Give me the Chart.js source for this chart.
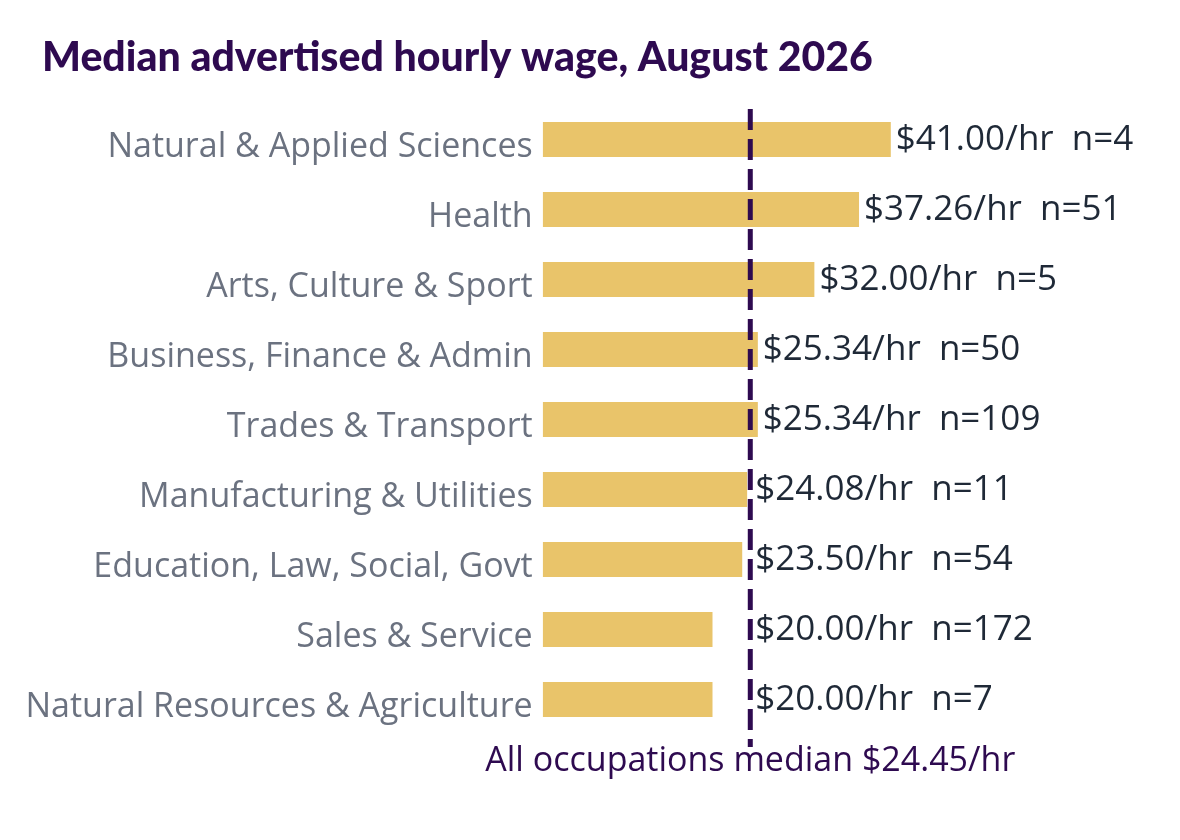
<!DOCTYPE html>
<html>
<head>
<meta charset="utf-8">
<script src="https://cdn.jsdelivr.net/npm/chart.js@4.4.1/dist/chart.umd.min.js"></script>
<style>
  html, body { margin: 0; padding: 0; background: #fff; }
  #wrap { width: 1180px; height: 840px; }
</style>
</head>
<body>
<div id="wrap"><canvas id="chart"></canvas></div>
<script>
const categories = [
  "Natural & Applied Sciences",
  "Health",
  "Arts, Culture & Sport",
  "Business, Finance & Admin",
  "Trades & Transport",
  "Manufacturing & Utilities",
  "Education, Law, Social, Govt",
  "Sales & Service",
  "Natural Resources & Agriculture"
]
const wages = [41.00, 37.26, 32.00, 25.34, 25.34, 24.08, 23.50, 20.00, 20.00]
const counts = [4, 51, 5, 50, 109, 11, 54, 172, 7]
const overallMedian = 24.45

const titleText = "Median advertised hourly wage, August 2026"
const medianLabel = "All occupations median $24.45/hr"

const purple = "#2e0a50"
const gold = "#e9c46a"

// title, dashed median line and value labels
const overlay = {
  id: 'overlay',
  afterDraw(chart) {
    const { ctx } = chart
    ctx.save()
    ctx.font = "900 41px Lato"
    ctx.fillStyle = purple
    ctx.textBaseline = 'middle'
    ctx.textAlign = 'left'
    ctx.fillText(titleText, 42, 58)
    ctx.restore()
  },
  afterDatasetsDraw(chart) {
    const { ctx, chartArea, scales: { x, y } } = chart
    const mx = x.getPixelForValue(overallMedian)

    ctx.save()
    ctx.strokeStyle = purple
    ctx.lineWidth = 5
    ctx.setLineDash([21, 9])
    ctx.beginPath()
    ctx.moveTo(mx, chartArea.top + 4.5)
    ctx.lineTo(mx, chartArea.bottom + 12.5)
    ctx.stroke()
    ctx.setLineDash([])

    ctx.font = "35px 'Open Sans'"
    ctx.fillStyle = "#1f2937"
    ctx.textBaseline = 'middle'
    ctx.textAlign = 'left'
    wages.forEach((w, i) => {
      const px = Math.max(x.getPixelForValue(w), mx) + 5
      const py = y.getPixelForValue(i) + 1
      ctx.fillText(`$${w.toFixed(2)}/hr  n=${counts[i]}`, px, py)
    })

    ctx.font = "34px 'Open Sans'"
    ctx.fillStyle = purple
    ctx.textAlign = 'center'
    ctx.fillText(medianLabel, mx, chartArea.bottom + 27)
    ctx.restore()
  }
}

new Chart(document.getElementById('chart'), {
  type: 'bar',
  data: {
    labels: categories,
    datasets: [{
      data: wages,
      backgroundColor: gold,
      borderWidth: 0,
      categoryPercentage: 1,
      barPercentage: 0.5
    }]
  },
  options: {
    indexAxis: 'y',
    responsive: true,
    maintainAspectRatio: false,
    animation: false,
    layout: { padding: { left: 10, right: 43, top: 104.5, bottom: 105.5 } },
    plugins: {
      legend: { display: false },
      tooltip: { enabled: false },
      title: { display: false }
    },
    scales: {
      x: {
        display: false,
        min: 0,
        max: 70
      },
      y: {
        grid: { display: false, drawTicks: false },
        border: { display: false },
        afterFit(scale) { scale.width = 532.7 },
        ticks: {
          color: "#6b7280",
          font: { family: 'Open Sans', size: 34 },
          padding: 10,
          labelOffset: 7.5
        }
      }
    }
  },
  plugins: [overlay]
})
</script>
</body>
</html>
